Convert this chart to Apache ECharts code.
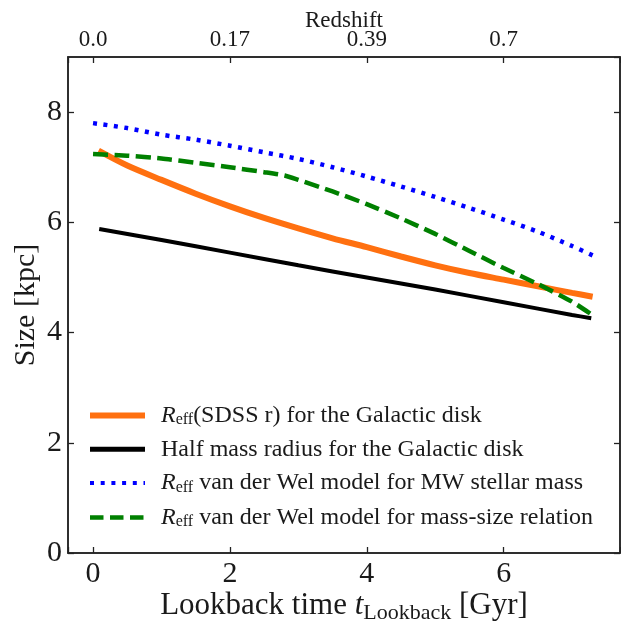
<!DOCTYPE html>
<html><head><meta charset="utf-8">
<script src="https://cdn.jsdelivr.net/npm/echarts@6/dist/echarts.min.js"></script>
<style>html,body{margin:0;padding:0;background:#fff}#c{width:621px;height:622px}</style>
</head><body><div id="c"></div>
<script>
// Data
const xTicks = [0, 2, 4, 6];
const redshiftLabels = ['0.0', '0.17', '0.39', '0.7'];

const tOrange = [0.08, 0.5, 1, 1.5, 2, 2.5, 3, 3.5, 4, 4.5, 5, 5.5, 6, 6.5, 7, 7.3];
const vOrange = [7.30, 7.03, 6.77, 6.52, 6.29, 6.08, 5.89, 5.71, 5.55, 5.38, 5.22, 5.08, 4.96, 4.84, 4.72, 4.65];

const tBlack = [0.09, 1, 2, 3, 4, 5, 6, 7, 7.28];
const vBlack = [5.88, 5.68, 5.45, 5.22, 5.00, 4.78, 4.55, 4.32, 4.26];

const tBlue = [0, 0.5, 1, 1.5, 2, 2.5, 3, 3.5, 4, 4.5, 5, 5.5, 6, 6.5, 7, 7.3];
const vBlue = [7.80, 7.71, 7.59, 7.50, 7.39, 7.27, 7.15, 7.00, 6.83, 6.65, 6.46, 6.26, 6.05, 5.83, 5.57, 5.40];

const tGreen = [0, 0.5, 1, 1.5, 2, 2.5, 2.8, 3, 3.5, 4, 4.5, 5, 5.5, 6, 6.5, 7, 7.33];
const vGreen = [7.24, 7.21, 7.16, 7.08, 7.00, 6.91, 6.85, 6.77, 6.56, 6.33, 6.07, 5.79, 5.48, 5.17, 4.88, 4.56, 4.29];

const names = [
  'R(SDSS r) for the Galactic disk',
  'Half mass radius for the Galactic disk',
  'R van der Wel model for MW stellar mass',
  'R van der Wel model for mass-size relation'
];
const legendRich = [
  '{i|R}{s|eff}{t|(SDSS r) for the Galactic disk}',
  '{t|Half mass radius for the Galactic disk}',
  '{i|R}{s|eff}{t| van der Wel model for MW stellar mass}',
  '{i|R}{s|eff}{t| van der Wel model for mass-size relation}'
];

const pairs = (t, v) => t.map((x, i) => [x, v[i]]);
const FONT = 'Liberation Serif';
const C = '#1a1a1a';
const chart = echarts.init(document.getElementById('c'));

const tickStyle = { show: true, inside: true, length: 6, lineStyle: { color: '#222', width: 1.3 } };
const xCommon = {
  type: 'value', min: -0.366, max: 7.70, minInterval: 2, maxInterval: 2,
  nameMoveOverlap: false,
  axisLine: { show: true, onZero: false, lineStyle: { color: '#222', width: 1.5 } },
  axisTick: tickStyle, splitLine: { show: false }
};

chart.setOption({
  animation: false,
  textStyle: { fontFamily: FONT },
  grid: { left: 68, right: 1, top: 57, bottom: 69, outerBoundsMode: 'none', containLabel: false,
    show: true, borderColor: '#222', borderWidth: 1.5, backgroundColor: 'transparent' },
  xAxis: [
    Object.assign({}, xCommon, {
      position: 'bottom',
      name: '{n|Lookback time }{i|t}{s|Lookback}{n| [Gyr]}',
      nameLocation: 'middle', nameGap: 35,
      nameTextStyle: { rich: {
        n: { fontFamily: FONT, fontSize: 31, color: C },
        i: { fontFamily: FONT, fontSize: 31, fontStyle: 'italic', color: C },
        s: { fontFamily: FONT, fontSize: 22, color: C, padding: [14, 0, 0, 0] }
      } },
      axisLabel: { fontFamily: FONT, fontSize: 30, color: C, margin: 6,
        formatter: v => (xTicks.indexOf(v) >= 0 ? String(v) : '') }
    }),
    Object.assign({}, xCommon, {
      position: 'top',
      name: 'Redshift', nameLocation: 'middle', nameGap: 25,
      nameTextStyle: { fontFamily: FONT, fontSize: 23, color: C },
      axisLabel: { fontFamily: FONT, fontSize: 23, color: C, margin: 6,
        formatter: v => { const k = xTicks.indexOf(v); return k >= 0 ? redshiftLabels[k] : ''; } }
    })
  ],
  yAxis: [
    { type: 'value', min: 0, max: 9, interval: 2, position: 'left',
      name: 'Size [kpc]', nameLocation: 'middle', nameGap: 27, nameMoveOverlap: false,
      nameTextStyle: { fontFamily: FONT, fontSize: 30, color: C },
      axisLine: { show: true, onZero: false, lineStyle: { color: '#222', width: 1.5 } },
      axisTick: tickStyle, splitLine: { show: false },
      axisLabel: { fontFamily: FONT, fontSize: 30, color: C, margin: 6, showMaxLabel: false,
        padding: [6, 0, 0, 0],
        formatter: v => (v % 2 === 0 ? String(v) : '') } },
    { type: 'value', min: 0, max: 9, interval: 2, position: 'right',
      axisLine: { show: true, onZero: false, lineStyle: { color: '#222', width: 1.5 } },
      axisTick: tickStyle, splitLine: { show: false }, axisLabel: { show: false } }
  ],
  legend: {
    orient: 'vertical', left: 82, top: 398, itemWidth: 55, itemHeight: 14, itemGap: 9.3,
    itemStyle: { opacity: 0 },
    data: [
      { name: names[0], lineStyle: { width: 6 } },
      { name: names[1], lineStyle: { width: 5 } },
      { name: names[2], lineStyle: { width: 4, type: [4, 6.7] } },
      { name: names[3], lineStyle: { width: 4.5, type: [13.5, 6.5] } }
    ],
    formatter: n => legendRich[names.indexOf(n)],
    textStyle: { fontFamily: FONT, fontSize: 24, color: C, padding: [0, 0, 0, 11],
      rich: {
        t: { fontFamily: FONT, fontSize: 24, color: C, lineHeight: 24 },
        i: { fontFamily: FONT, fontSize: 24, fontStyle: 'italic', color: C, lineHeight: 24 },
        s: { fontFamily: FONT, fontSize: 16, color: C, padding: [9, 0, 0, 0], lineHeight: 16 }
      } }
  },
  series: [
    { name: names[0], type: 'line', data: pairs(tOrange, vOrange), symbol: 'none', smooth: 0.3,
      lineStyle: { color: '#ff7010', width: 6 }, itemStyle: { color: '#ff7010' }, z: 3 },
    { name: names[1], type: 'line', data: pairs(tBlack, vBlack), symbol: 'none', smooth: 0.3,
      lineStyle: { color: '#000', width: 4 }, itemStyle: { color: '#000' }, z: 2 },
    { name: names[2], type: 'line', data: pairs(tBlue, vBlue), symbol: 'none', smooth: 0.3,
      lineStyle: { color: '#0000ff', width: 4.5, type: [4, 6.5] }, itemStyle: { color: '#0000ff' }, z: 4 },
    { name: names[3], type: 'line', data: pairs(tGreen, vGreen), symbol: 'none', smooth: 0.2,
      lineStyle: { color: '#008000', width: 4.5, type: [15, 6.4] }, itemStyle: { color: '#008000' }, z: 5 }
  ]
});
</script></body></html>
